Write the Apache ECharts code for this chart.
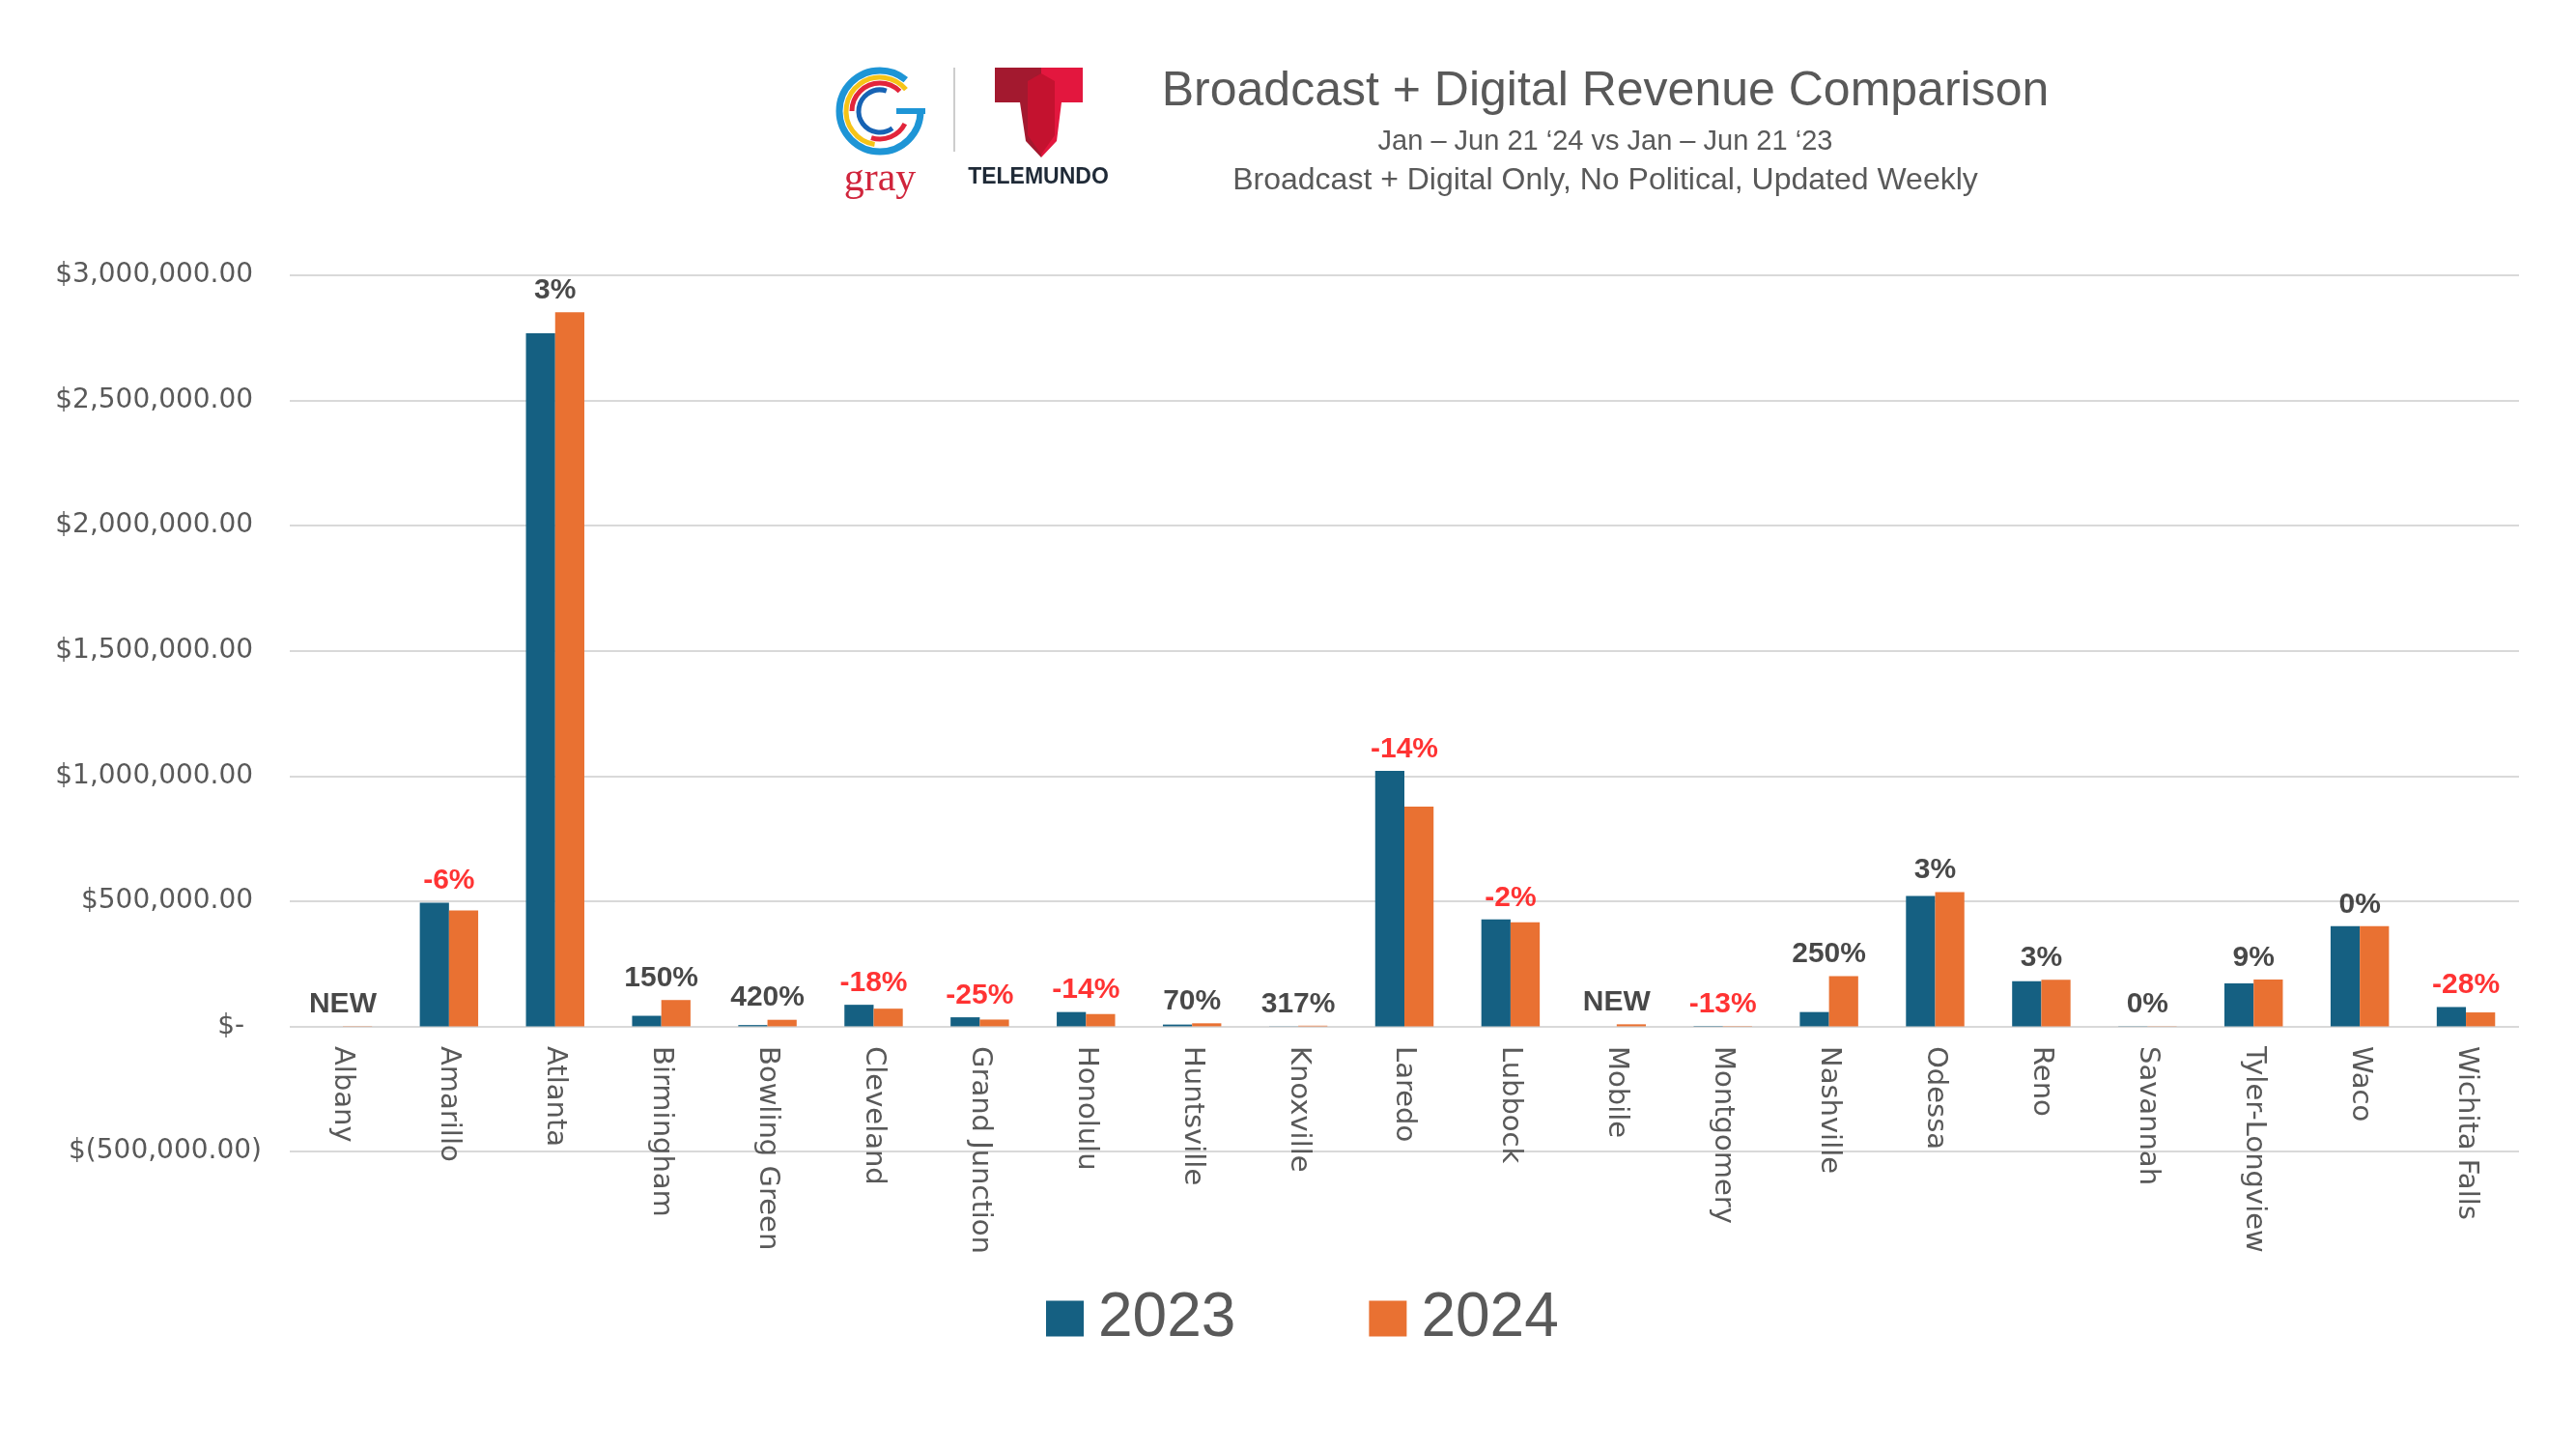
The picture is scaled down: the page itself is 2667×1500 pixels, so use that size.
<!DOCTYPE html>
<html>
<head>
<meta charset="utf-8">
<title>Broadcast + Digital Revenue Comparison</title>
<script src="https://cdn.jsdelivr.net/npm/echarts@6/dist/echarts.min.js"></script>
<style>
  html, body { margin: 0; padding: 0; background: #fff; }
  #chart { width: 2667px; height: 1500px; }
</style>
</head>
<body>
<div id="chart"></div>
<script>
// markets, in the order they sit on the x axis
const markets = ['Albany', 'Amarillo', 'Atlanta', 'Birmingham', 'Bowling Green', 'Cleveland',
  'Grand Junction', 'Honolulu', 'Huntsville', 'Knoxville', 'Laredo', 'Lubbock', 'Mobile',
  'Montgomery', 'Nashville', 'Odessa', 'Reno', 'Savannah', 'Tyler-Longview', 'Waco', 'Wichita Falls'];

// revenue Jan - Jun 21
const rev2023 = [0, 494000, 2768000, 42000, 5000, 86000, 36000, 57000, 7000, 600, 1020000,
  427000, 0, 1500, 57000, 521000, 180000, 800, 171000, 400000, 77000];
const rev2024 = [1000, 463000, 2852000, 105000, 26000, 70500, 27000, 49000, 12000, 2500, 878000,
  416000, 8000, 1300, 200000, 536000, 186000, 800, 187000, 400000, 55500];

// change labels printed over each market
const changeLabels = ['NEW', '-6%', '3%', '150%', '420%', '-18%', '-25%', '-14%', '70%', '317%',
  '-14%', '-2%', 'NEW', '-13%', '250%', '3%', '3%', '0%', '9%', '0%', '-28%'];

// value axis ticks
const yMin = -500000;
const yMax = 3000000;
const yStep = 500000;

const BLUE = '#156082';
const ORANGE = '#e97132';
const GREY_TEXT = '#595959';
const GRID_LINE = '#d9d9d9';

// accounting style like Excel: $ 1,000.00 / $- / $(500.00)
function money(v) {
  if (v === 0) return '$-  ';
  const s = Math.abs(v).toLocaleString('en-US', { minimumFractionDigits: 2, maximumFractionDigits: 2 });
  return v < 0 ? '$(' + s + ')' : '$' + s + ' ';
}

// label sits just above the taller of the two bars
const labelPoints = markets.map((m, i) => ({
  value: Math.max(rev2023[i], rev2024[i]),
  label: {
    formatter: changeLabels[i],
    color: changeLabels[i].startsWith('-') ? '#ff0000' : '#1a1a1a'
  }
}));

const chart = echarts.init(document.getElementById('chart'));

chart.setOption({
  backgroundColor: '#ffffff',
  animation: false,
  grid: { left: 300, right: 59, top: 285, bottom: 308 },
  legend: {
    data: ['2023', '2024'],
    left: 1078,
    top: 1328,
    icon: 'rect',
    itemWidth: 39,
    itemHeight: 37,
    itemGap: 138,
    textStyle: { fontSize: 64, color: GREY_TEXT, fontFamily: 'Liberation Sans', padding: [0, 0, 0, 10] }
  },
  xAxis: {
    type: 'category',
    data: markets,
    // axis stays at the bottom, labels are pulled up to just under the $0 line
    axisLine: { show: false, onZero: false },
    axisTick: { show: false },
    axisLabel: {
      rotate: -90,
      margin: -109,
      interval: 0,
      fontSize: 29,
      color: GREY_TEXT,
      fontFamily: 'DejaVu Sans'
    },
    splitLine: { show: false }
  },
  yAxis: {
    type: 'value',
    min: yMin,
    max: yMax,
    interval: yStep,
    axisLine: { show: false },
    axisTick: { show: false },
    axisLabel: {
      margin: 29,
      padding: [5, 0, 0, 0],
      fontSize: 28,
      color: GREY_TEXT,
      fontFamily: 'DejaVu Sans',
      formatter: money
    },
    splitLine: { lineStyle: { color: GRID_LINE, width: 2 } }
  },
  series: [
    {
      name: '2023',
      type: 'bar',
      data: rev2023,
      barGap: '0%',
      barCategoryGap: '45%',
      itemStyle: { color: BLUE }
    },
    {
      name: '2024',
      type: 'bar',
      data: rev2024,
      itemStyle: { color: ORANGE }
    },
    {
      // the % change text, one per market
      name: 'change',
      type: 'scatter',
      data: labelPoints,
      symbolSize: 1,
      itemStyle: { color: 'rgba(0,0,0,0)' },
      z: 5,
      label: {
        show: true,
        position: 'top',
        distance: 7,
        fontSize: 30,
        fontWeight: 'bold',
        fontFamily: 'Liberation Sans'
      },
      silent: true
    }
  ],
  graphic: [
    // gray logo: broken rings forming a G
    { type: 'arc', shape: { cx: 911, cy: 115, r: 42, startAngle: 0, endAngle: Math.PI * 1.72 },
      style: { stroke: '#1e95d6', lineWidth: 7, fill: null } },
    { type: 'arc', shape: { cx: 911, cy: 115, r: 35, startAngle: Math.PI * 0.55, endAngle: Math.PI * 1.78 },
      style: { stroke: '#f6c417', lineWidth: 5, fill: null } },
    { type: 'arc', shape: { cx: 911, cy: 115, r: 29, startAngle: Math.PI * 1.0, endAngle: Math.PI * 1.75 },
      style: { stroke: '#e2253b', lineWidth: 5, fill: null } },
    { type: 'arc', shape: { cx: 911, cy: 115, r: 29, startAngle: Math.PI * 0.15, endAngle: Math.PI * 0.6 },
      style: { stroke: '#e2253b', lineWidth: 5, fill: null } },
    { type: 'arc', shape: { cx: 911, cy: 115, r: 22, startAngle: Math.PI * 0.3, endAngle: Math.PI * 1.6 },
      style: { stroke: '#1763b4', lineWidth: 5, fill: null } },
    { type: 'rect', shape: { x: 928, y: 112, width: 30, height: 6 }, style: { fill: '#1e95d6' } },
    { type: 'text', style: { x: 911, y: 186, text: 'gray', textAlign: 'center', textVerticalAlign: 'middle',
      font: '42px "Liberation Serif"', fill: '#d0253c' } },
    // separator
    { type: 'line', shape: { x1: 988, y1: 70, x2: 988, y2: 157 }, style: { stroke: '#bdbdbd', lineWidth: 1.5 } },
    // Telemundo T
    { type: 'polygon', shape: { points: [[1030, 70], [1078, 70], [1078, 163], [1062, 146], [1056, 106], [1030, 106]] },
      style: { fill: '#a3192f' } },
    { type: 'polygon', shape: { points: [[1078, 70], [1121, 70], [1121, 106], [1099, 106], [1094, 146], [1078, 163]] },
      style: { fill: '#e3173e' } },
    { type: 'polygon', shape: { points: [[1064, 84], [1078, 76], [1092, 84], [1092, 140], [1078, 160], [1064, 140]] },
      style: { fill: '#c4122f' } },
    { type: 'text', style: { x: 1075, y: 184, text: 'TELEMUNDO', textAlign: 'center', textVerticalAlign: 'middle',
      font: 'bold 23px "Liberation Sans"', fill: '#1f2a37' } },
    // titles
    { type: 'text', style: { x: 1662, y: 95, text: 'Broadcast + Digital Revenue Comparison', textAlign: 'center',
      textVerticalAlign: 'middle', font: '50px "Liberation Sans"', fill: GREY_TEXT } },
    { type: 'text', style: { x: 1662, y: 147, text: 'Jan \u2013 Jun 21 \u201824 vs Jan \u2013 Jun 21 \u201823', textAlign: 'center',
      textVerticalAlign: 'middle', font: '29px "Liberation Sans"', fill: GREY_TEXT } },
    { type: 'text', style: { x: 1662, y: 187, text: 'Broadcast + Digital Only, No Political, Updated Weekly', textAlign: 'center',
      textVerticalAlign: 'middle', font: '32px "Liberation Sans"', fill: GREY_TEXT } }
  ]
});
</script>
</body>
</html>
